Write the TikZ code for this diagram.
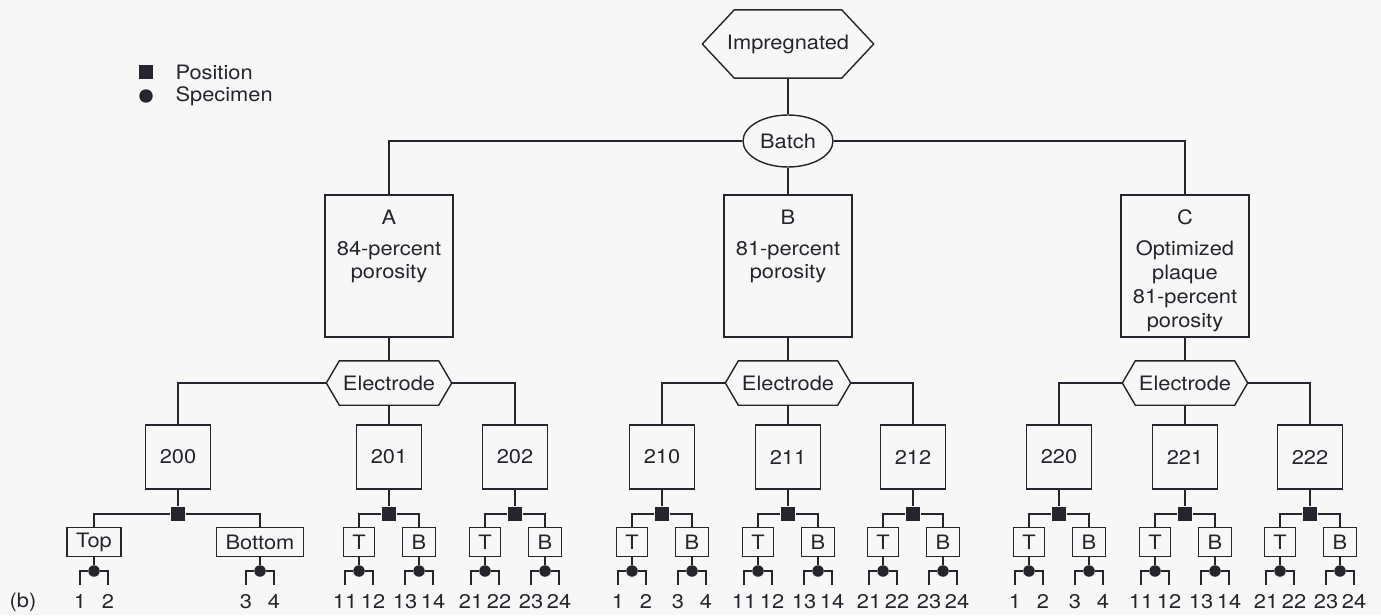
\documentclass[tikz,border=0pt]{standalone}
\usepackage{fontspec}
\setmainfont{TeX Gyre Heros}[FakeStretch=1.1]
\usetikzlibrary{shapes.geometric,positioning}
\definecolor{paper}{RGB}{247,247,247}
\definecolor{ink}{RGB}{38,36,44}
% hexagon outline round a named node: #1 node, #2 depth of the points
\newcommand\hexframe[2]{\draw ([xshift=#2]#1.north west) -- ([xshift=-#2]#1.north east) -- (#1.east)
    -- ([xshift=-#2]#1.south east) -- ([xshift=#2]#1.south west) -- (#1.west) -- cycle;}
\begin{document}
\begin{tikzpicture}[x=0.02cm, y=-0.02cm, line width=0.8pt, color=ink,
    every node/.style={font=\fontsize{11.3}{13.6}\selectfont},
    hexbox/.style={rectangle, inner sep=0pt},
    groupbox/.style={draw, rectangle, minimum width=2.56cm, minimum height=2.84cm},
    grouptext/.style={align=center, anchor=north, inner sep=0pt},
    trialbox/.style={draw, rectangle, minimum width=1.3cm, minimum height=1.28cm},
    sidebox/.style={draw, rectangle, inner xsep=0.18cm, inner ysep=0pt, minimum width=0.58cm, minimum height=0.58cm},
    posmark/.style={fill, rectangle, inner sep=0pt, minimum size=0.28cm},
    specmark/.style={fill, circle, inner sep=0pt, minimum size=0.23cm}]
    % canvas
    \fill[paper] (0,0) rectangle (1381,615);
    \useasboundingbox (0,0) rectangle (1381,615);
    % key
    \node[posmark] (key_pos) at (146,72) {};
    \node[anchor=west] (key_pos_text) at (169,72) {Position};
    \node[specmark, minimum size=0.27cm] (key_spec) at (146,96) {};
    \node[anchor=west] (key_spec_text) at (169,96) {Specimen};
    \node (part_label) at (23,602) {(b)};
    % treatment and batch
    \node[hexbox, minimum width=3.4cm, minimum height=1.34cm] (impregnated) at (788,44) {Impregnated};
    \hexframe{impregnated}{0.64cm}
    \node[draw, ellipse, inner sep=0pt, minimum width=1.8cm, minimum height=1.04cm] (batch) at (788,141) {Batch};
    % batches
    \node[groupbox] (group_A) at (389,266) {};
    \node[grouptext] (text_A) at (389,209) {A\\[4pt]84-percent\\porosity};
    \node[groupbox] (group_B) at (788,266) {};
    \node[grouptext] (text_B) at (788,209) {B\\[4pt]81-percent\\porosity};
    \node[groupbox] (group_C) at (1185,266) {};
    \node[grouptext] (text_C) at (1185,209) {C\\[4pt]Optimized\\plaque\\81-percent\\porosity};
    \draw (impregnated) -- (batch);
    \draw (group_A.north) |- (batch) -| (group_C.north);
    \draw (batch) -- (group_B);
    % electrodes, positions and specimens
    \foreach \name/\x/\toff/\boff/\tlbl/\blbl/\first in {
        200/178/-84/82/Top/Bottom/1, 201/389/-30/30/T/B/11, 202/515/-30/30/T/B/21,
        210/662/-30/30/T/B/1, 211/788/-30/30/T/B/11, 212/913/-30/30/T/B/21,
        220/1059/-30/30/T/B/1, 221/1185/-30/30/T/B/11, 222/1310/-30/30/T/B/21}
    {
        \node[trialbox] (box_\name) at (\x,457) {\name};
        \node[posmark] (pos_\name) at (\x,514) {};
        \node[sidebox] (top_\name) at (\x+\toff,542) {\tlbl};
        \node[sidebox] (bot_\name) at (\x+\boff,542) {\blbl};
        \draw (box_\name) -- (pos_\name);
        \draw (top_\name.north) |- (pos_\name) -| (bot_\name.north);
        \foreach \side/\off/\k in {top/\toff/0, bot/\boff/2}
        {
            \pgfmathtruncatemacro{\na}{\first+\k};
            \pgfmathtruncatemacro{\nb}{\first+\k+1};
            \node[specmark] (spec_\side_\name) at (\x+\off,571) {};
            \coordinate (leg_l) at (\x+\off-14,585);
            \coordinate (leg_r) at (\x+\off+14,585);
            \draw (\side_\name) -- (spec_\side_\name);
            \draw (leg_l) |- (spec_\side_\name) -| (leg_r);
            \node[below=5pt of leg_l, inner sep=0pt] (num_\na_\name) {\na};
            \node[below=5pt of leg_r, inner sep=0pt] (num_\nb_\name) {\nb};
        }
    }
    \foreach \g/\x/\a/\b/\c in {A/389/200/201/202, B/788/210/211/212, C/1185/220/221/222}
    {
        \node[hexbox, minimum width=2.48cm, minimum height=0.86cm] (electrode_\g) at (\x,383) {Electrode};
        \hexframe{electrode_\g}{0.26cm}
        \draw (group_\g) -- (electrode_\g);
        \draw (box_\a.north) |- (electrode_\g) -| (box_\c.north);
        \draw (electrode_\g) -- (box_\b);
    }
\end{tikzpicture}
\end{document}
